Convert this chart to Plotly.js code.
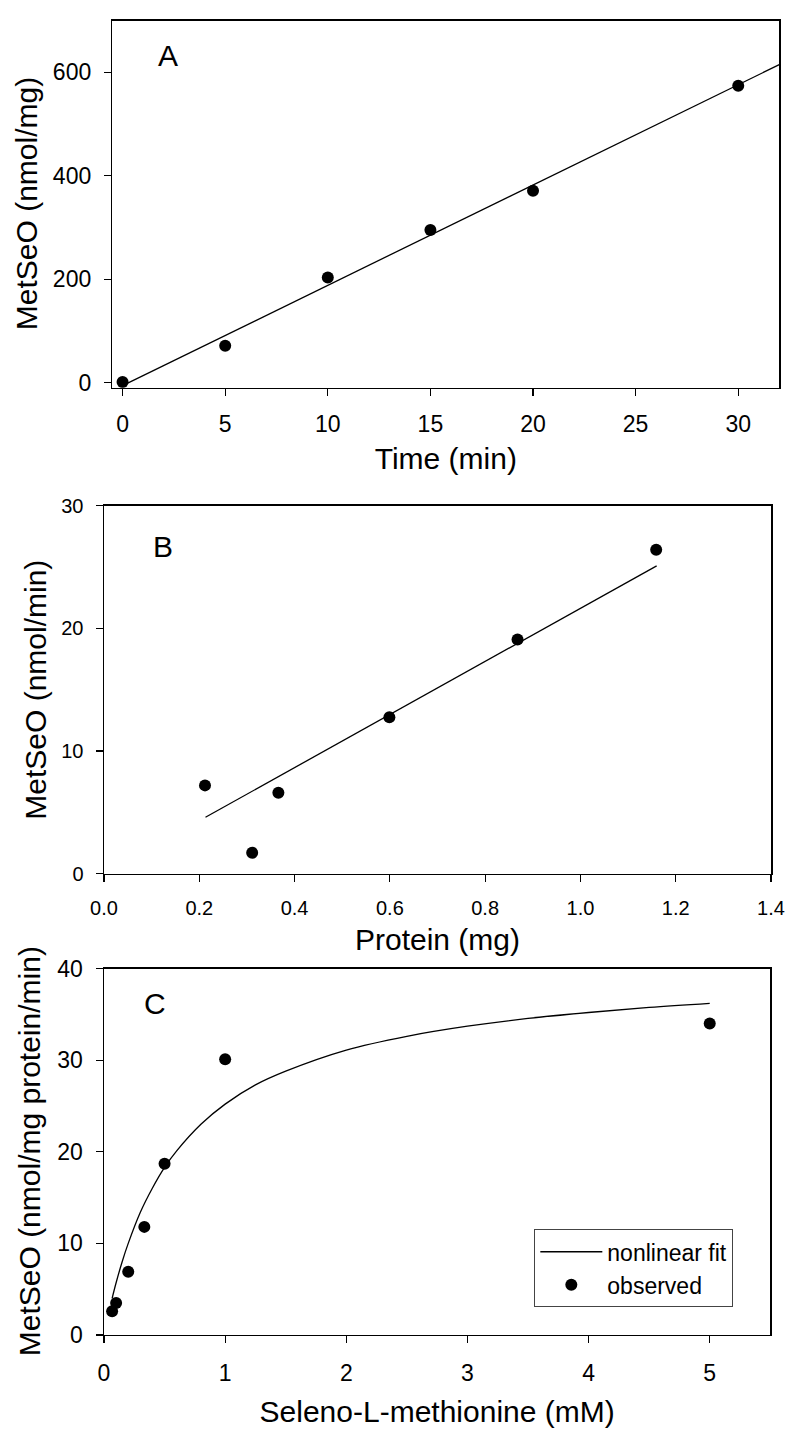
<!DOCTYPE html>
<html>
<head>
<meta charset="utf-8">
<script src="https://cdn.plot.ly/plotly-3.0.1.min.js"></script>
<style>html,body{margin:0;padding:0;background:#fff;}#chart{width:800px;height:1440px;}</style>
</head>
<body>
<div id="chart"></div>
<script>
// Panel A: time course
const timeMin = [0, 5, 10, 15, 20, 30];
const metseoA = [1, 71, 203, 295, 371, 574];
const fitAx = [0, 32];
const fitAy = [-6, 615];

// Panel B: protein dependence
const proteinMg = [0.212, 0.311, 0.366, 0.599, 0.868, 1.159];
const metseoB = [7.2, 1.7, 6.6, 12.75, 19.1, 26.4];
const fitBx = [0.213, 1.16];
const fitBy = [4.6, 25.1];

// Panel C: substrate dependence
const selenoMM = [0.067, 0.1, 0.2, 0.333, 0.5, 1, 5];
const metseoC = [2.6, 3.5, 6.9, 11.8, 18.7, 30.1, 34.0];
const fitCx = [0.067, 0.1, 0.15, 0.2, 0.3, 0.4, 0.5, 0.6, 0.8, 1.0, 1.25, 1.5, 2, 2.5, 3, 3.5, 4, 4.5, 5];
const fitCy = [4.0, 5.7, 8.0, 10.0, 13.4, 16.05, 18.3, 20.1, 23.0, 25.2, 27.3, 28.8, 31.1, 32.6, 33.7, 34.55, 35.2, 35.75, 36.2];

const ticksA_x = [0, 5, 10, 15, 20, 25, 30];
const ticksA_y = [0, 200, 400, 600];
const ticksB_x = [0, 0.2, 0.4, 0.6, 0.8, 1.0, 1.2, 1.4];
const ticksB_y = [0, 10, 20, 30];
const ticksC_x = [0, 1, 2, 3, 4, 5];
const ticksC_y = [0, 10, 20, 30, 40];

const yTitles = ['MetSeO (nmol/mg)', 'MetSeO (nmol/min)', 'MetSeO (nmol/mg protein/min)'];
const panelLetters = ['A', 'B', 'C'];

const FONT = 'Liberation Sans, Arial, Helvetica, sans-serif';
const lineStyle = {color: '#000', width: 1.3};
const mk = {color: '#000', size: 12};

const traces = [
  {x: fitAx, y: fitAy, mode: 'lines', line: lineStyle, xaxis: 'x', yaxis: 'y', showlegend: false},
  {x: timeMin, y: metseoA, mode: 'markers', marker: mk, xaxis: 'x', yaxis: 'y', showlegend: false},
  {x: fitBx, y: fitBy, mode: 'lines', line: lineStyle, xaxis: 'x2', yaxis: 'y2', showlegend: false},
  {x: proteinMg, y: metseoB, mode: 'markers', marker: mk, xaxis: 'x2', yaxis: 'y2', showlegend: false},
  {x: fitCx, y: fitCy, mode: 'lines', line: Object.assign({shape: 'spline', smoothing: 1}, lineStyle), xaxis: 'x3', yaxis: 'y3', name: 'nonlinear fit', showlegend: true},
  {x: selenoMM, y: metseoC, mode: 'markers', marker: mk, xaxis: 'x3', yaxis: 'y3', name: 'observed', showlegend: true}
];

function ax(extra) {
  return Object.assign({
    showline: true, linecolor: '#000', linewidth: 1.5, mirror: true,
    showgrid: false, zeroline: false,
    ticks: 'outside', ticklen: 7, tickwidth: 1.2, tickcolor: '#000',
    tickfont: {family: FONT, size: 23, color: '#000'},
    automargin: false
  }, extra);
}

const TF = {family: FONT, size: 30, color: '#000'};
const domA = [0.73076, 0.98563], domB = [0.39326, 0.64882], domC = [0.07292, 0.32743];
const mid = d => (d[0] + d[1]) / 2;

const layout = {
  width: 800, height: 1440,
  margin: {l: 0, r: 0, t: 0, b: 0},
  paper_bgcolor: '#fff', plot_bgcolor: '#fff',
  font: {family: FONT, color: '#000'},
  xaxis: ax({domain: [0.1404, 0.9741], anchor: 'y', range: [-0.5, 32], tickvals: ticksA_x,
    ticklabelstandoff: 8,
    title: {text: 'Time (min)', font: TF, standoff: 12}}),
  yaxis: ax({domain: domA, anchor: 'x', range: [-10, 700], tickvals: ticksA_y, ticklabelstandoff: 8}),
  xaxis2: ax({domain: [0.13, 0.96375], anchor: 'y2', range: [0, 1.4], tickvals: ticksB_x, tickformat: '.1f',
    tickfont: {family: FONT, size: 20, color: '#000'}, ticklabelstandoff: 9,
    title: {text: 'Protein (mg)', font: TF, standoff: 11}}),
  yaxis2: ax({domain: domB, anchor: 'x2', range: [0, 30], tickvals: ticksB_y,
    tickfont: {family: FONT, size: 20, color: '#000'}, ticklabelstandoff: 8}),
  xaxis3: ax({domain: [0.13, 0.96288], anchor: 'y3', range: [0, 5.5], tickvals: ticksC_x,
    ticklabelstandoff: 10,
    title: {text: 'Seleno-L-methionine (mM)', font: TF, standoff: 16}}),
  yaxis3: ax({domain: domC, anchor: 'x3', range: [0, 40], tickvals: ticksC_y, ticklabelstandoff: 8}),
  legend: {
    x: 0.6679, y: 0.14632, xanchor: 'left', yanchor: 'top',
    bordercolor: '#444', borderwidth: 1, bgcolor: '#fff',
    font: {family: FONT, size: 23, color: '#000'},
    itemwidth: 62, tracegroupgap: 0
  },
  annotations: [
    {text: panelLetters[0], x: 2.2, y: 633, xref: 'x', yref: 'y', showarrow: false, font: {family: FONT, size: 30}},
    {text: panelLetters[1], x: 0.123, y: 26.7, xref: 'x2', yref: 'y2', showarrow: false, font: {family: FONT, size: 30}},
    {text: panelLetters[2], x: 0.417, y: 36.2, xref: 'x3', yref: 'y3', showarrow: false, font: {family: FONT, size: 30}},
    {text: yTitles[0], textangle: -90, x: 26 / 800, y: mid(domA), xref: 'paper', yref: 'paper', xanchor: 'center', yanchor: 'middle', showarrow: false, font: TF},
    {text: yTitles[1], textangle: -90, x: 36 / 800, y: mid(domB), xref: 'paper', yref: 'paper', xanchor: 'center', yanchor: 'middle', showarrow: false, font: TF},
    {text: yTitles[2], textangle: -90, x: 29.5 / 800, y: mid(domC), xref: 'paper', yref: 'paper', xanchor: 'center', yanchor: 'middle', showarrow: false, font: TF}
  ]
};

Plotly.newPlot('chart', traces, layout, {displayModeBar: false, staticPlot: true});
</script>
</body>
</html>
